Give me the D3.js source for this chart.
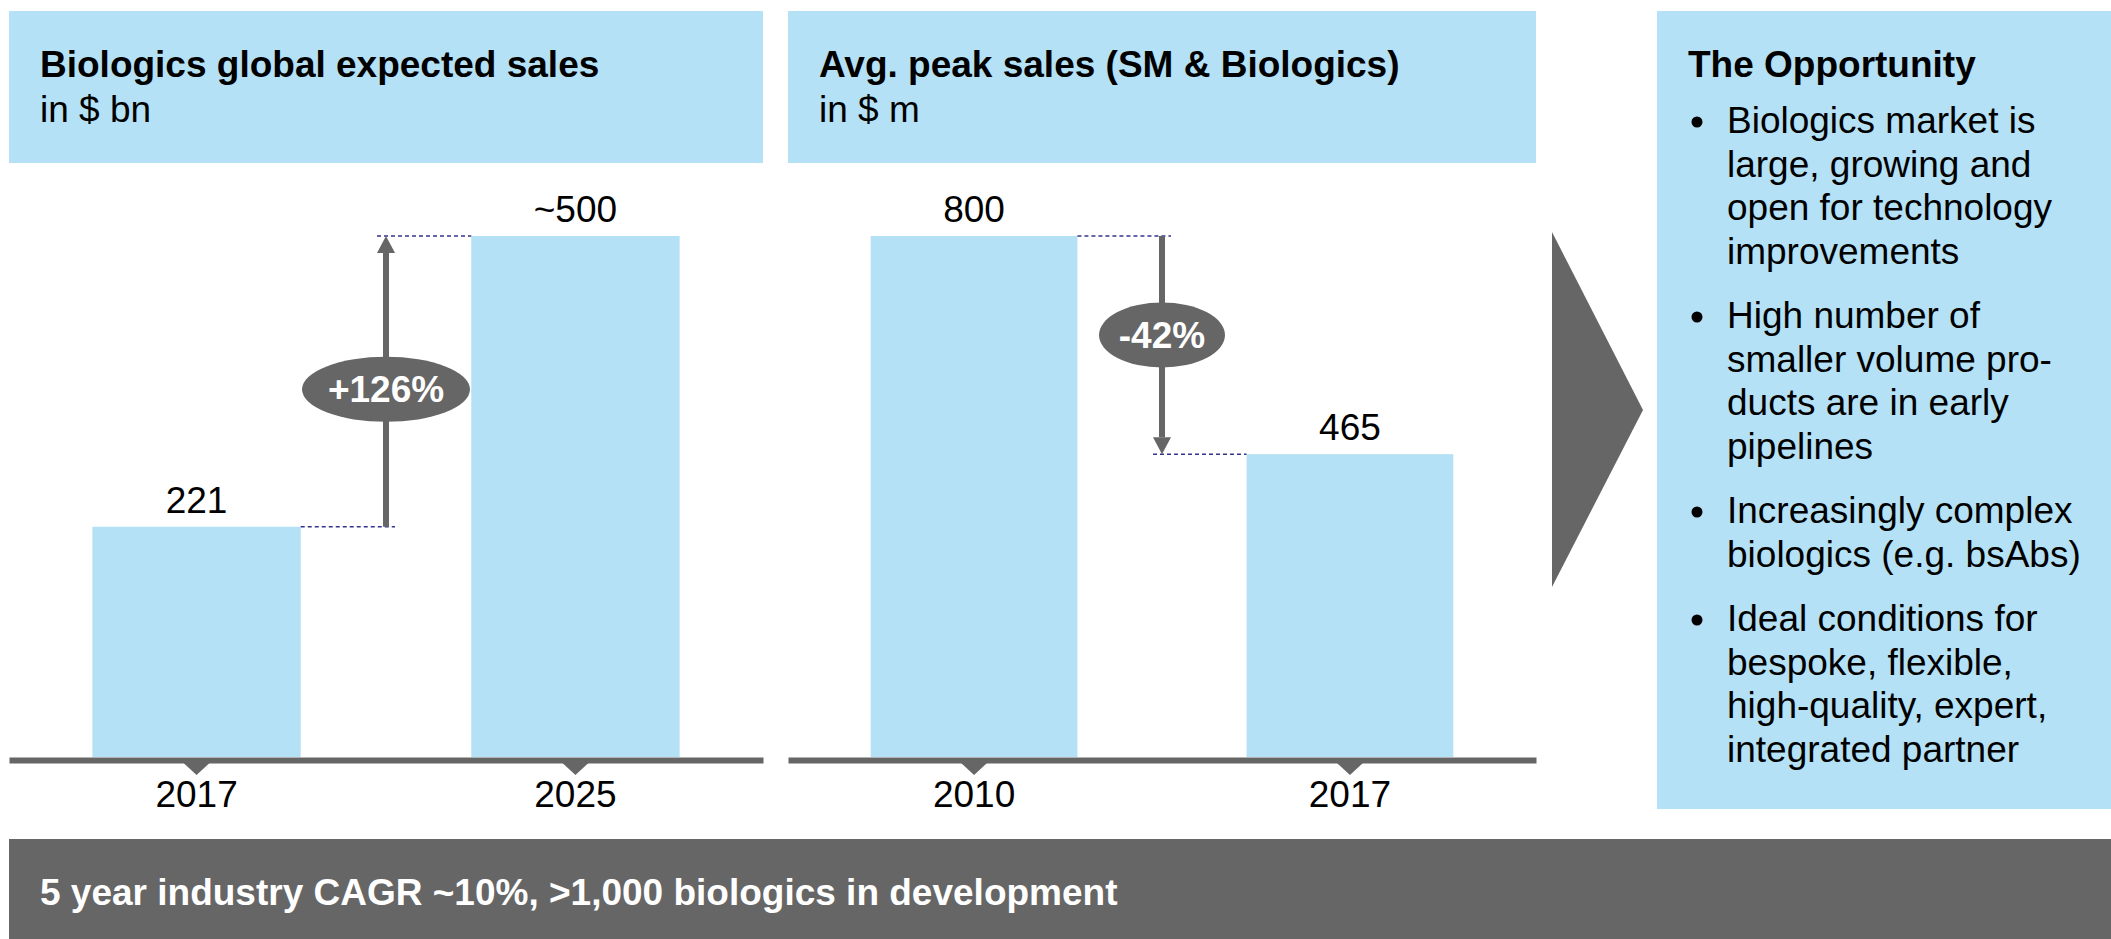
<!DOCTYPE html>
<html lang="en">
<head>
  <meta charset="UTF-8" />
  <title>Biologics market</title>
  <script src="https://d3js.org/d3.v7.min.js"></script>
  <style>
    html, body {
      margin: 0;
      padding: 0;
      background: #fff;
    }
    svg {
      display: block;
      font-family: "Liberation Sans", Arial, Helvetica, sans-serif;
    }
    .axis .domain {
      stroke: #666;
      stroke-width: 6;
    }
    .axis text {
      font-size: 37px;
      fill: #000;
    }
  </style>
</head>
<body>
  <svg id="chart" width="2111" height="939"></svg>
  <script>
    // left chart data
    const salesYears = ['2017', '2025'];
    const salesValues = [221, 500];
    const salesLabels = ['221', '~500'];
    const salesChange = '+126%';

    // middle chart data
    const peakYears = ['2010', '2017'];
    const peakValues = [800, 465];
    const peakLabels = ['800', '465'];
    const peakChange = '-42%';

    const bulletItems = [
      ['Biologics market is', 'large, growing and', 'open for technology', 'improvements'],
      ['High number of', 'smaller volume pro-', 'ducts are in early', 'pipelines'],
      ['Increasingly complex', 'biologics (e.g. bsAbs)'],
      ['Ideal conditions for', 'bespoke, flexible,', 'high-quality, expert,', 'integrated partner']
    ];

    const blue = '#b4e1f5';
    const gray = '#666666';
    const navy = '#34348c';
    const fs = 37;

    const svg = d3.select('#chart');
    const baseY = 757;
    const topY = 236;

    function drawPanel(opts) {
      const g = svg.append('g');

      // header box
      g.append('rect')
        .attr('x', opts.x0).attr('y', 11)
        .attr('width', opts.x1 - opts.x0).attr('height', 152)
        .attr('fill', blue);
      g.append('text')
        .attr('x', opts.x0 + 31).attr('y', 77)
        .attr('font-size', fs).attr('font-weight', 'bold')
        .text(opts.title);
      g.append('text')
        .attr('x', opts.x0 + 31).attr('y', 122)
        .attr('font-size', fs)
        .text(opts.subtitle);

      const x = d3.scaleBand()
        .domain(opts.cats)
        .range([opts.x0, opts.x1])
        .paddingInner(0.45)
        .paddingOuter(0.22);
      const y = d3.scaleLinear()
        .domain([0, d3.max(opts.values)])
        .range([baseY, topY]);

      const rows = opts.cats.map((c, i) => ({ cat: c, value: opts.values[i], label: opts.labels[i] }));

      g.selectAll('rect.bar')
        .data(rows)
        .join('rect')
        .attr('class', 'bar')
        .attr('x', d => x(d.cat))
        .attr('y', d => y(d.value))
        .attr('width', x.bandwidth())
        .attr('height', d => baseY - y(d.value))
        .attr('fill', blue);

      g.selectAll('text.val')
        .data(rows)
        .join('text')
        .attr('class', 'val')
        .attr('x', d => x(d.cat) + x.bandwidth() / 2)
        .attr('y', d => y(d.value) - 14)
        .attr('text-anchor', 'middle')
        .attr('font-size', fs)
        .text(d => d.label);

      // axis
      const axis = g.append('g')
        .attr('class', 'axis')
        .attr('transform', `translate(0,${baseY + 3})`)
        .call(d3.axisBottom(x).tickSize(0).tickSizeOuter(0));
      axis.selectAll('.tick text').attr('dy', '0.71em').attr('y', 21);
      axis.selectAll('.tick')
        .append('path')
        .attr('d', 'M-13,3L13,3L0,15Z')
        .attr('fill', gray);

      // change arrow between the bars
      const a = rows[0], b = rows[1];
      const ax = (x(a.cat) + x.bandwidth() + x(b.cat)) / 2;
      const y0 = y(a.value), y1 = y(b.value);
      const up = y1 < y0;

      // dashed guides
      g.append('line')
        .attr('x1', x(a.cat) + x.bandwidth()).attr('x2', ax + 9)
        .attr('y1', y0).attr('y2', y0)
        .attr('stroke', navy).attr('stroke-width', 1.5)
        .attr('stroke-dasharray', '4,3');
      g.append('line')
        .attr('x1', ax - 9).attr('x2', x(b.cat))
        .attr('y1', y1).attr('y2', y1)
        .attr('stroke', navy).attr('stroke-width', 1.5)
        .attr('stroke-dasharray', '4,3');

      const headLen = 17;
      const dir = up ? 1 : -1;
      g.append('line')
        .attr('x1', ax).attr('x2', ax)
        .attr('y1', y0).attr('y2', y1 + dir * headLen)
        .attr('stroke', gray).attr('stroke-width', 6);
      g.append('path')
        .attr('d', `M${ax - 9},${y1 + dir * headLen}L${ax + 9},${y1 + dir * headLen}L${ax},${y1}Z`)
        .attr('fill', gray);

      const cy = (y0 + y1) / 2 + opts.badgeShift;
      g.append('ellipse')
        .attr('cx', ax).attr('cy', cy)
        .attr('rx', opts.badgeRx).attr('ry', 32.5)
        .attr('fill', gray);
      g.append('text')
        .attr('x', ax).attr('y', cy + 13)
        .attr('text-anchor', 'middle')
        .attr('font-size', fs).attr('font-weight', 'bold')
        .attr('fill', '#fff')
        .text(opts.change);
    }

    drawPanel({
      x0: 9, x1: 763,
      title: 'Biologics global expected sales', subtitle: 'in $ bn',
      cats: salesYears, values: salesValues, labels: salesLabels,
      change: salesChange, badgeRx: 84, badgeShift: 8
    });

    drawPanel({
      x0: 788, x1: 1536,
      title: 'Avg. peak sales (SM & Biologics)', subtitle: 'in $ m',
      cats: peakYears, values: peakValues, labels: peakLabels,
      change: peakChange, badgeRx: 63, badgeShift: -10
    });

    // chevron
    svg.append('path')
      .attr('d', 'M1552,232L1643,410L1552,587Z')
      .attr('fill', gray);

    // opportunity panel
    svg.append('rect')
      .attr('x', 1657).attr('y', 11)
      .attr('width', 2111 - 1657).attr('height', 798)
      .attr('fill', blue);
    svg.append('text')
      .attr('x', 1688).attr('y', 77)
      .attr('font-size', fs).attr('font-weight', 'bold')
      .text('The Opportunity');

    let yy = 133;
    const lineStep = 43.5;
    bulletItems.forEach(lines => {
      svg.append('circle')
        .attr('cx', 1697).attr('cy', yy - 11)
        .attr('r', 5.5)
        .attr('fill', '#000');
      lines.forEach(t => {
        svg.append('text')
          .attr('x', 1727).attr('y', yy)
          .attr('font-size', fs)
          .text(t);
        yy += lineStep;
      });
      yy += 21;
    });

    // bottom banner
    svg.append('rect')
      .attr('x', 9).attr('y', 839)
      .attr('width', 2111 - 9).attr('height', 100)
      .attr('fill', gray);
    svg.append('text')
      .attr('x', 40).attr('y', 905)
      .attr('font-size', fs).attr('font-weight', 'bold')
      .attr('fill', '#fff')
      .text('5 year industry CAGR ~10%, >1,000 biologics in development');
  </script>
</body>
</html>
